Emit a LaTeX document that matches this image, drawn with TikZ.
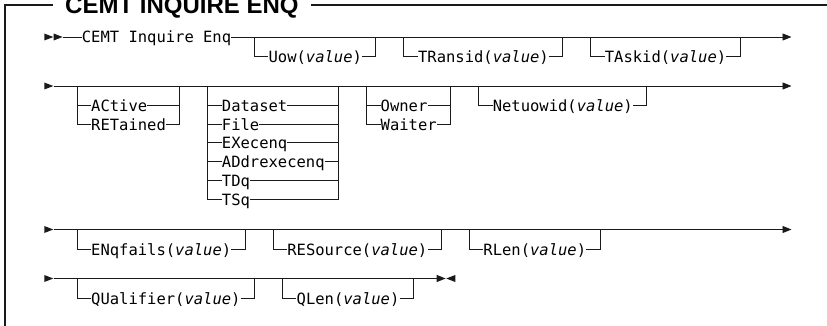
\documentclass[tikz,border=0pt]{standalone}
\usepackage{fontspec}
\setmonofont{DejaVu Sans Mono}
\newfontfamily\titlefont{Liberation Sans}
\usetikzlibrary{arrows.meta}

\definecolor{railColour}{HTML}{1A1A1A}

% Character grid: left edge of column #1
\newcommand{\colx}[1]{44.3+9.34*(#1)}
\newcommand{\headright}[2]{\fill[railColour] ({#1},{#2-3.5}) -- ({#1+9},{#2}) -- ({#1},{#2+3.5}) -- cycle;}
\newcommand{\headleft}[2]{\fill[railColour] ({#1},{#2-3.5}) -- ({#1-9},{#2}) -- ({#1},{#2+3.5}) -- cycle;}

\begin{document}
\begin{tikzpicture}[x=1pt, y=-1pt,
    rail/.style={line width=0.9pt, draw=railColour},
    frame/.style={line width=1.1pt, draw=railColour},
    endtip/.style={-{Triangle[length=9pt, width=7pt]}},
    keyword/.style={anchor=west, inner sep=0pt, text height=15pt, text depth=3pt,
        font=\fontsize{15.5}{18.7}\selectfont\ttfamily}]

    % Define rows and spacing
    \def\yA{37}
    \def\yB{86}
    \def\yC{229.5}
    \def\yD{278.5}
    \def\drop{19.5}
    \def\pitch{18.7}

    \useasboundingbox (0,0) rectangle (827,326);

    % Draw frame and title
    \node[anchor=west, inner xsep=12pt, inner ysep=0pt, text height=17.2pt, text depth=0pt,
        font=\titlefont\bfseries\fontsize{24}{28}\selectfont] (title) at (53,5) {CEMT INQUIRE ENQ};
    \coordinate (frameTL) at (5,5);
    \coordinate (frameBL) at (5,326);
    \coordinate (frameTR) at (827,5);
    \draw[frame] (title.west) -- (frameTL) -- (frameBL);
    \draw[frame] (title.east) -- (frameTR);

    % Row 1: command and optional parameters
    \headright{\colx{0}}{\yA}
    \headright{\colx{1}}{\yA}
    \coordinate (startA) at ({\colx{2}},\yA);
    \coordinate (endA) at ({\colx{80}},\yA);
    \node[keyword] (cmd) at ({\colx{4}},\yA) {CEMT Inquire Enq};
    \draw[rail] (startA) -- (cmd.west);
    \draw[rail, endtip] (cmd.east) -- (endA);
    \foreach \name/\lc/\tc/\rc/\word in {uow/22/24/35/Uow, transid/38/40/55/TRansid, taskid/58/60/74/TAskid} {
        \coordinate (\name-l) at ({\colx{\lc+0.5}},\yA);
        \coordinate (\name-r) at ({\colx{\rc+0.5}},\yA);
        \node[keyword] (\name) at ({\colx{\tc}},{\yA+\drop}) {\word(\textit{value})};
        \draw[rail] (\name-l) |- (\name.west);
        \draw[rail] (\name.east) -| (\name-r);
    }

    % Row 2: stacks of choices
    \headright{\colx{0}}{\yB}
    \coordinate (startB) at ({\colx{1}},\yB);
    \coordinate (endB) at ({\colx{80}},\yB);
    \draw[rail, endtip] (startB) -- (endB);
    \foreach \grp/\lc/\rc/\items in {state/3/14/{ACtive,RETained}, kind/17/31/{Dataset,File,EXecenq,ADdrexecenq,TDq,TSq}, role/34/43/{Owner,Waiter}} {
        \coordinate (\grp-l) at ({\colx{\lc+0.5}},\yB);
        \coordinate (\grp-r) at ({\colx{\rc+0.5}},\yB);
        \foreach \word [count=\i] in \items {
            \node[keyword] (\grp-\i) at ({\colx{\lc+2}},{\yB+\drop+(\i-1)*\pitch}) {\word};
            \draw[rail] (\grp-l) |- (\grp-\i.west);
            \draw[rail] (\grp-\i.east) -| (\grp-r);
        }
    }
    \coordinate (netuowid-l) at ({\colx{46.5}},\yB);
    \coordinate (netuowid-r) at ({\colx{64.5}},\yB);
    \node[keyword] (netuowid) at ({\colx{48}},{\yB+\drop}) {Netuowid(\textit{value})};
    \draw[rail] (netuowid-l) |- (netuowid.west);
    \draw[rail] (netuowid.east) -| (netuowid-r);

    % Row 3: optional parameters
    \headright{\colx{0}}{\yC}
    \coordinate (startC) at ({\colx{1}},\yC);
    \coordinate (endC) at ({\colx{80}},\yC);
    \draw[rail, endtip] (startC) -- (endC);
    \foreach \name/\lc/\tc/\rc/\word in {enqfails/3/5/21/ENqfails, resource/24/26/42/RESource, rlen/45/47/59/RLen} {
        \coordinate (\name-l) at ({\colx{\lc+0.5}},\yC);
        \coordinate (\name-r) at ({\colx{\rc+0.5}},\yC);
        \node[keyword] (\name) at ({\colx{\tc}},{\yC+\drop}) {\word(\textit{value})};
        \draw[rail] (\name-l) |- (\name.west);
        \draw[rail] (\name.east) -| (\name-r);
    }

    % Row 4: optional parameters and end of statement
    \headright{\colx{0}}{\yD}
    \coordinate (startD) at ({\colx{1}},\yD);
    \coordinate (endD) at ({\colx{43}-0.3},\yD);
    \draw[rail, endtip] (startD) -- (endD);
    \headleft{\colx{44}}{\yD}
    \foreach \name/\lc/\tc/\rc/\word in {qualifier/3/5/22/QUalifier, qlen/25/27/39/QLen} {
        \coordinate (\name-l) at ({\colx{\lc+0.5}},\yD);
        \coordinate (\name-r) at ({\colx{\rc+0.5}},\yD);
        \node[keyword] (\name) at ({\colx{\tc}},{\yD+\drop}) {\word(\textit{value})};
        \draw[rail] (\name-l) |- (\name.west);
        \draw[rail] (\name.east) -| (\name-r);
    }

\end{tikzpicture}
\end{document}
